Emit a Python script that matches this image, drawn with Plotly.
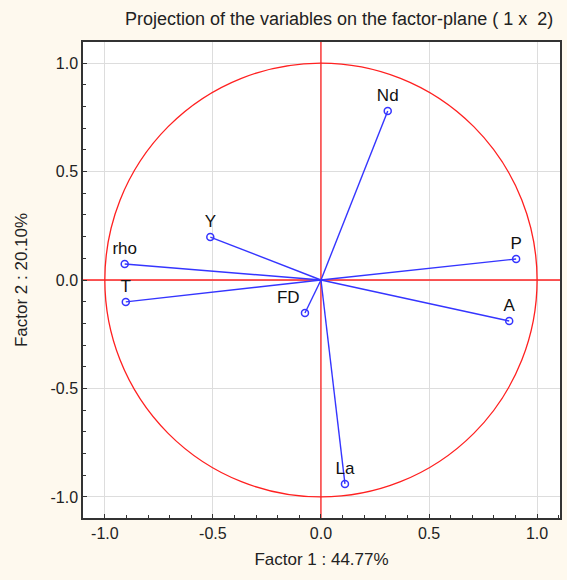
import plotly.graph_objects as go

variables = ["Nd", "P", "A", "La", "FD", "T", "rho", "Y"]
factor1 = [0.309, 0.903, 0.871, 0.111, -0.074, -0.903, -0.908, -0.512]
factor2 = [0.779, 0.097, -0.189, -0.940, -0.152, -0.101, 0.074, 0.198]
label_pos = ["top center", "top center", "top center", "top center", "top left",
             "top center", "top center", "top center"]
tick_vals = [-1.0, -0.5, 0.0, 0.5, 1.0]
tick_text = ["-1.0", "-0.5", "0.0", "0.5", "1.0"]
radius = 1.0
x_range = [-1.101, 1.106]
y_range = [-1.097, 1.097]

FONT = "Liberation Sans, Arial, sans-serif"
RED = "#ff2020"
BLUE = "#3535ff"
fig = go.Figure()

# red axes cross through the origin
fig.add_trace(go.Scatter(x=[0, 0], y=[y_range[0] * 2, y_range[1] * 2], mode="lines",
                         line=dict(color=RED, width=1.3), hoverinfo="skip", showlegend=False))
fig.add_trace(go.Scatter(x=[x_range[0] * 2, x_range[1] * 2], y=[0, 0], mode="lines",
                         line=dict(color=RED, width=1.3), hoverinfo="skip", showlegend=False))

for name, x, y in zip(variables, factor1, factor2):
    fig.add_trace(go.Scatter(x=[0, x], y=[0, y], mode="lines",
                             line=dict(color=BLUE, width=1.4),
                             hoverinfo="skip", showlegend=False))

fig.add_trace(go.Scatter(
    x=factor1, y=factor2, mode="markers+text", text=variables,
    textposition=label_pos,
    textfont=dict(family=FONT, size=17, color="#111111"),
    marker=dict(symbol="circle-open", size=7, color=BLUE, line=dict(width=1.5)),
    showlegend=False))

fig.add_shape(type="circle", xref="x", yref="y", x0=-radius, y0=-radius, x1=radius, y1=radius,
              line=dict(color=RED, width=1.3), layer="between")

axis_common = dict(
    tickvals=tick_vals, ticktext=tick_text, ticks="inside", ticklen=4, tickcolor="#333",
    showgrid=True, gridcolor="#dddddd", gridwidth=1, zeroline=False,
    showline=True, linecolor="#333", linewidth=1.5, mirror=True,
    tickfont=dict(family=FONT, size=16, color="#222"),
    minor=dict(dtick=0.1, ticks="inside", ticklen=3, tickcolor="#333", showgrid=False),
)

fig.update_layout(
    width=567, height=580,
    margin=dict(l=83, r=5, t=42, b=62),
    paper_bgcolor="#fef9ee", plot_bgcolor="white",
    title=dict(text="Projection of the variables on the factor-plane ( 1 x  2)",
               x=0.598, xanchor="center", y=0.968, yanchor="middle",
               font=dict(family=FONT, size=18, color="#222")),
    xaxis=dict(range=x_range, title=dict(text="Factor 1 : 44.77%", standoff=12,
               font=dict(family=FONT, size=17, color="#222")), **axis_common),
    yaxis=dict(range=y_range, title=dict(text="Factor 2 : 20.10%", standoff=19,
               font=dict(family=FONT, size=17, color="#222")), **axis_common),
)

fig.write_html("out.html")
